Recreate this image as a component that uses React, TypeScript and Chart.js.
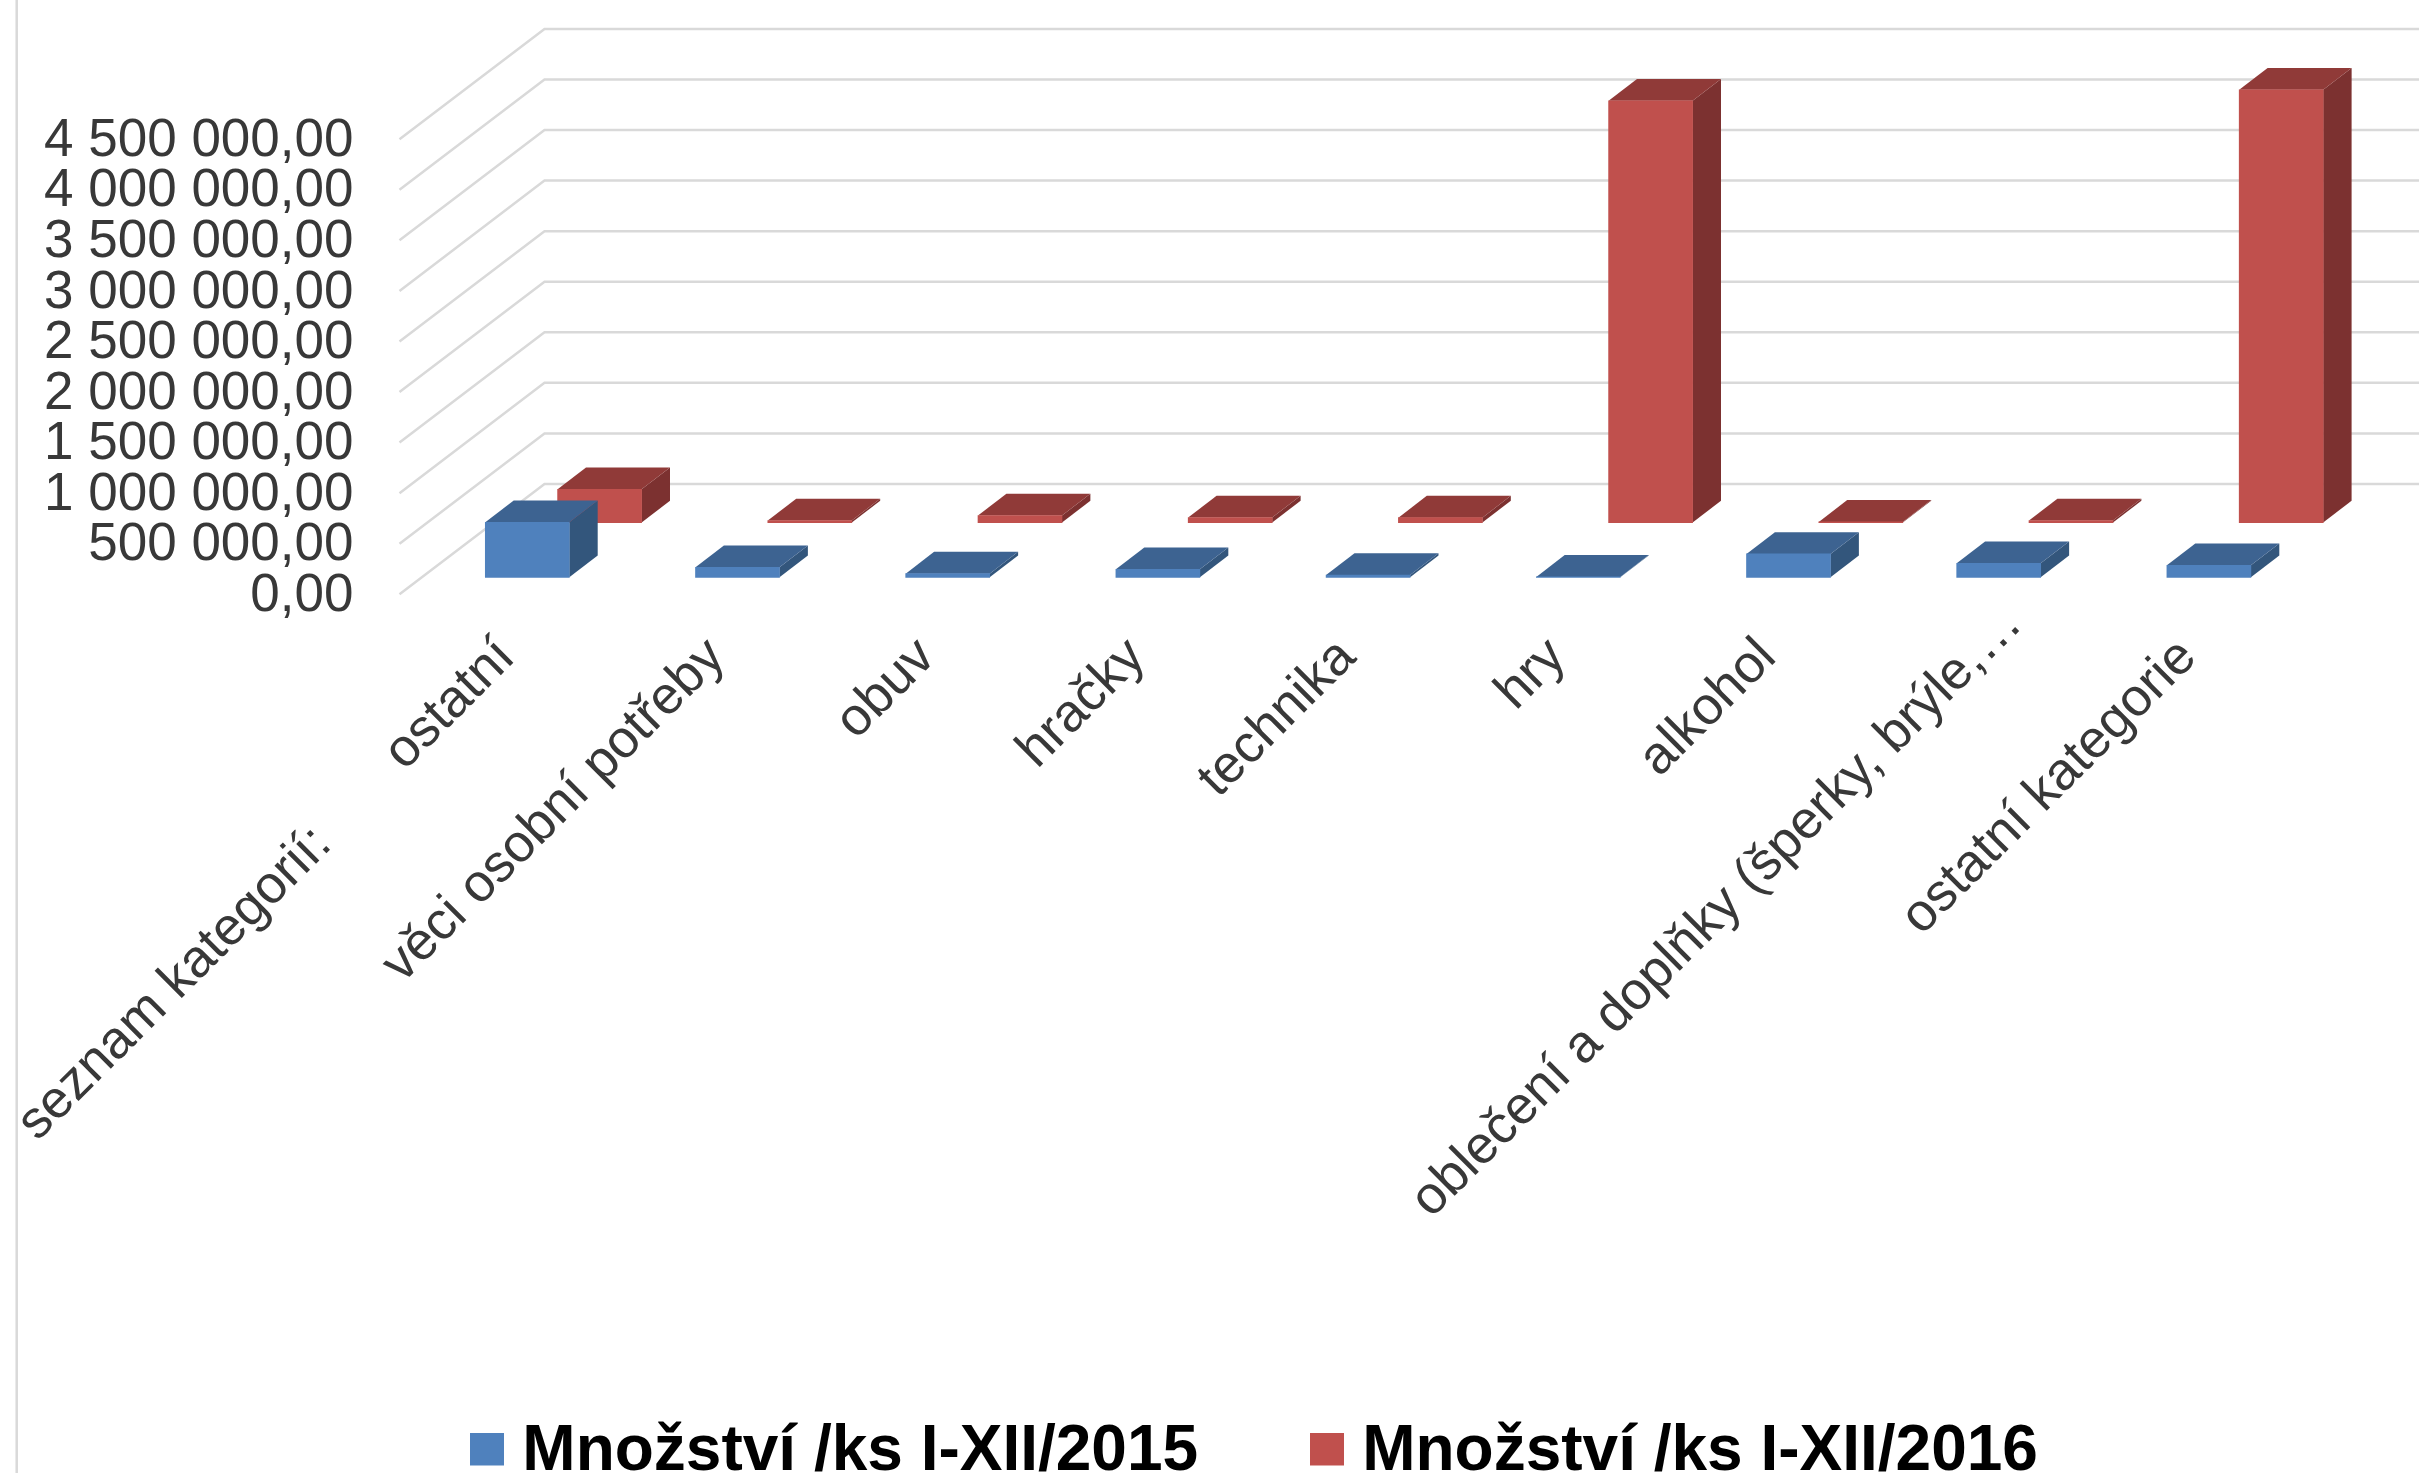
import React, { useEffect, useRef } from "react";
import { Chart, registerables } from "chart.js";

Chart.register(...registerables);

const categories = [
  "ostatní",
  "věci osobní potřeby",
  "obuv",
  "hračky",
  "technika",
  "hry",
  "alkohol",
  "oblečení a doplňky (šperky, brýle,…",
  "ostatní kategorie",
];
const outerCategory = "seznam kategorií:";
const qty2015 = [544000, 99000, 36000, 79000, 23000, 4000, 231000, 138000, 118000];
const qty2016 = [329000, 20000, 69000, 50000, 49000, 4170000, 7000, 20000, 4280000];
const label2015 = "Množství /ks I-XII/2015";
const label2016 = "Množství /ks I-XII/2016";
const axisMax = 4500000;
const axisStep = 500000;

const W = 2419;
const H = 1473;
const FONT = "'Liberation Sans', Arial, sans-serif";
const TEXT = "#383838";
const GRID = "#d9d9d9";
const PLOT = { left: 399.5, right: 2291.3, top: 139.2, bottom: 594.3 };
const WALL = { dx: 145, dy: -110.3 };
const BAR_DEPTH = { dx: 28.4, dy: -21.8 };
const PLANES = [
  { dx: 22.7, dy: -17, front: "#4f81bd", top: "#3d6391", side: "#33567c" },
  { dx: 95, dy: -71.7, front: "#c0504d", top: "#903a38", side: "#7c3130" },
];

const formatTick = (v: number) =>
  Math.round(v).toString().replace(/\B(?=(\d{3})+(?!\d))/g, " ") + ",00";

const swatch = (color: string) => {
  const c = document.createElement("canvas");
  c.width = 34;
  c.height = 39;
  const g = c.getContext("2d")!;
  g.fillStyle = color;
  g.fillRect(0, 0, 34, 33);
  return c;
};

const view3d = {
  id: "view3d",
  afterLayout(chart: any) {
    const l = chart.legend;
    if (l) {
      const shift = 115.5;
      l.left += shift;
      l.right += shift;
      l.top = 1294;
      l.bottom = l.top + l.height;
    }
  },
  beforeDraw(chart: any) {
    // the long, truncated category label sits further along its diagonal
    const xItems = chart.scales.x.getLabelItems();
    const long = xItems[7];
    if (long) {
      long.options.translation[0] += 36;
      long.options.translation[1] -= 33;
    }
    for (const it of chart.scales.y.getLabelItems()) {
      it.options.translation[1] += 2;
    }
  },
  beforeDatasetsDraw(chart: any) {
    const { ctx, scales } = chart;
    const y = scales.y;
    ctx.save();
    ctx.strokeStyle = GRID;
    ctx.lineWidth = 2.5;
    ctx.beginPath();
    ctx.moveTo(16.7, 0);
    ctx.lineTo(16.7, H);
    for (const t of y.ticks) {
      const py = y.getPixelForValue(t.value);
      ctx.moveTo(PLOT.left, py);
      ctx.lineTo(PLOT.left + WALL.dx, py + WALL.dy);
      ctx.lineTo(W, py + WALL.dy);
    }
    ctx.stroke();
    ctx.restore();
  },
  beforeDatasetDraw(chart: any, args: any) {
    const { ctx } = chart;
    const p = PLANES[args.index];
    ctx.save();
    ctx.translate(p.dx, p.dy);
    const { dx, dy } = BAR_DEPTH;
    for (const el of args.meta.data) {
      const l = el.x - el.width / 2;
      const r = el.x + el.width / 2;
      ctx.fillStyle = p.side;
      ctx.beginPath();
      ctx.moveTo(r, el.y);
      ctx.lineTo(r, el.base);
      ctx.lineTo(r + dx, el.base + dy);
      ctx.lineTo(r + dx, el.y + dy);
      ctx.closePath();
      ctx.fill();
      ctx.fillStyle = p.top;
      ctx.beginPath();
      ctx.moveTo(l, el.y);
      ctx.lineTo(r, el.y);
      ctx.lineTo(r + dx, el.y + dy);
      ctx.lineTo(l + dx, el.y + dy);
      ctx.closePath();
      ctx.fill();
    }
  },
  afterDatasetDraw(chart: any) {
    chart.ctx.restore();
  },
  afterDraw(chart: any) {
    const { ctx } = chart;
    ctx.save();
    ctx.translate(323, 836);
    ctx.rotate(-Math.PI / 4);
    ctx.font = `53px ${FONT}`;
    ctx.fillStyle = TEXT;
    ctx.textAlign = "right";
    ctx.textBaseline = "middle";
    ctx.fillText(outerCategory, 0, 0);
    ctx.restore();
  },
};

export default function App() {
  const ref = useRef<HTMLCanvasElement>(null);
  useEffect(() => {
    const chart = new Chart(ref.current!, {
      type: "bar",
      data: {
        labels: categories,
        datasets: [
          { label: label2015, data: qty2015, backgroundColor: PLANES[0].front, clip: false },
          { label: label2016, data: qty2016, backgroundColor: PLANES[1].front, clip: false },
        ] as any,
      },
      plugins: [view3d],
      options: {
        responsive: false,
        animation: false,
        devicePixelRatio: 1,
        datasets: { bar: { grouped: false, barThickness: 84 } },
        layout: { padding: { left: 0, top: PLOT.top, right: W - PLOT.right, bottom: 0 } },
        scales: {
          x: {
            grid: { display: false },
            border: { display: false },
            afterFit(scale: any) {
              scale.height = H - PLOT.bottom - scale.chart.legend.height;
              scale.paddingLeft = 0;
              scale.paddingRight = 0;
            },
            ticks: {
              autoSkip: false,
              minRotation: 45,
              maxRotation: 45,
              padding: 24,
              labelOffset: 2,
              color: TEXT,
              font: { family: FONT, size: 53 },
            },
          },
          y: {
            min: 0,
            max: axisMax,
            grid: { display: false, drawTicks: false },
            border: { display: false },
            afterFit(scale: any) {
              scale.width = PLOT.left;
              scale.paddingTop = 0;
              scale.paddingBottom = 0;
            },
            ticks: {
              stepSize: axisStep,
              autoSkip: false,
              padding: 46,
              color: TEXT,
              font: { family: FONT, size: 53 },
              callback: (v: any) => formatTick(Number(v)),
            },
          },
        },
        plugins: {
          title: { display: false },
          tooltip: { enabled: false },
          legend: {
            position: "bottom",
            labels: {
              usePointStyle: true,
              pointStyleWidth: 6,
              padding: 126,
              color: "#333333",
              font: { family: FONT, size: 64, weight: "bold" },
              generateLabels: (c: any) =>
                c.data.datasets.map((d: any, i: number) => ({
                  text: d.label,
                  fillStyle: d.backgroundColor,
                  strokeStyle: d.backgroundColor,
                  lineWidth: 0,
                  hidden: false,
                  datasetIndex: i,
                  pointStyle: swatch(d.backgroundColor),
                })),
            },
          },
        },
      } as any,
    });
    return () => chart.destroy();
  }, []);
  return (
    <div style={{ position: "absolute", left: 0, top: 0, width: W, height: H, background: "#fff" }}>
      <canvas ref={ref} width={W} height={H} style={{ display: "block", width: W, height: H }} />
    </div>
  );
}
